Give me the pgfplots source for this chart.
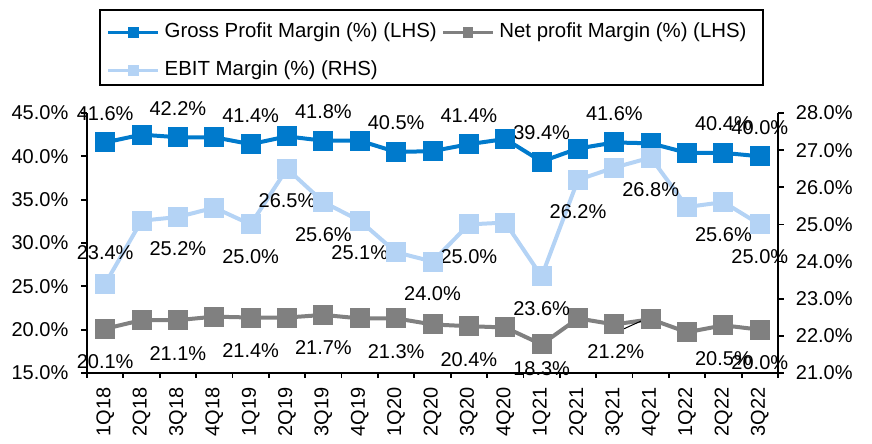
\documentclass[border=0pt]{standalone}
\usepackage{fontspec}
\setmainfont{Liberation Sans}
\usepackage{pgfplots}
\pgfplotsset{compat=1.18}
\usepackage{pgfplotstable}
\definecolor{gpmc}{RGB}{0,122,204}
\definecolor{npmc}{RGB}{128,128,128}
\definecolor{ebitc}{RGB}{180,211,245}
\newcommand\lbl{\fontsize{10}{12}\selectfont}
\newcommand\lgd{\fontsize{10.2}{12}\selectfont}

\pgfplotstableread{
x gpm npm ebit
0 41.6 20.1 23.4
1 42.5 21.1 25.1
2 42.2 21.1 25.2
3 42.2 21.5 25.45
4 41.4 21.4 25.0
5 42.3 21.4 26.5
6 41.8 21.7 25.6
7 41.8 21.3 25.1
8 40.5 21.3 24.25
9 40.6 20.6 24.0
10 41.4 20.4 25.0
11 42.0 20.25 25.05
12 39.4 18.3 23.6
13 40.9 21.3 26.2
14 41.6 20.6 26.53
15 41.5 21.2 26.8
16 40.4 19.7 25.47
17 40.4 20.5 25.6
18 40.0 20.0 25.0
}\data

\tikzset{dl/.style={font=\lbl, inner sep=0pt, anchor=center}}
\pgfplotsset{
  base/.style={
    width=345.5pt, height=130pt, scale only axis,
    xmin=-0.5, xmax=18.5,
    clip=false,
    tick align=outside,
    major tick length=2.8pt,
    /pgf/number format/assume math mode=true,
    ticklabel style={font=\lbl},
    axis line style={line width=0.9pt, black},
    tick style={black, line width=0.9pt},
  },
  lineplot/.style={line width=2pt, mark=square*, mark size=4pt, mark options={solid, rounded corners=1.2pt}},
}

\begin{document}
\begin{tikzpicture}
\begin{axis}[base,
  axis x line*=bottom, axis y line*=left,
  ymin=15, ymax=45, ytick={15,20,...,45},
  yticklabel={\pgfmathprintnumber[fixed,fixed zerofill,precision=1]{\tick}\%},
  yticklabel shift=3pt,
  xtick={0,...,18},
  xticklabels={1Q18,2Q18,3Q18,4Q18,1Q19,2Q19,3Q19,4Q19,1Q20,2Q20,3Q20,4Q20,1Q21,2Q21,3Q21,4Q21,1Q22,2Q22,3Q22},
  major x tick style={draw=none},
  minor xtick={-0.5,0.5,...,18.5}, minor tick length=2.5pt,
  xticklabel style={rotate=90, anchor=east},
  xticklabel shift=1pt,
  legend columns=2,
  legend cell align=left,
  legend style={draw=none, fill=none, at={(0.0289,1.348)}, anchor=north west,
    inner sep=0pt, outer sep=0pt, row sep=9.3pt, column sep=2.5pt, font=\lgd,
    nodes={inner sep=0pt, text height=7.5pt, text depth=2.2pt}},
  legend image code/.code={\draw[mark repeat=2, mark phase=2, #1, line width=1.35pt, mark size=2pt] plot coordinates {(0pt,0pt) (12.5pt,0pt) (25pt,0pt)};},
]
\path (rel axis cs:-0.1259,-0.2654) rectangle (rel axis cs:1.136,1.4346);
\draw[line width=0.8pt] (rel axis cs:0.0188,1.396) rectangle (rel axis cs:0.9783,1.1077);

\addplot[lineplot, gpmc] table[x=x, y=gpm] {\data};
\addlegendentry{Gross Profit Margin (\%) (LHS)}
\addplot[lineplot, npmc] table[x=x, y=npm] {\data};
\addlegendentry{Net profit Margin (\%) (LHS)}
\addlegendimage{lineplot, ebitc}
\addlegendentry{EBIT Margin (\%) (RHS)}

% gross labels
\foreach \xx/\yy in {0/41.6,2/42.2,4/41.4,6/41.8,8/40.5,10/41.4,12/39.4,14/41.6,17/40.4,18/40.0}{
  \edef\tmp{\noexpand\node[dl, yshift=14.5pt] at (axis cs:\xx,\yy) {\yy\noexpand\%};}\tmp
}
% net labels
\foreach \xx/\yy in {0/20.1,2/21.1,4/21.4,6/21.7,8/21.3,10/20.4,17/20.5,18/20.0}{
  \edef\tmp{\noexpand\node[dl, yshift=-16.5pt] at (axis cs:\xx,\yy) {\yy\noexpand\%};}\tmp
}
\node[dl, yshift=-12pt] at (axis cs:12,18.3) {18.3\%};
\node[dl, yshift=-16pt] at (axis cs:14.04,21.2) {21.2\%};
\draw[black, line width=0.5pt] (axis cs:14.07,19.73) -- (axis cs:14.92,21.35);
\end{axis}

\begin{axis}[base,
  axis x line=none, axis y line*=right,
  ymin=21, ymax=28, ytick={21,...,28},
  yticklabel={\pgfmathprintnumber[fixed,fixed zerofill,precision=1]{\tick}\%},
  yticklabel shift=2.6pt,
]
\addplot[lineplot, ebitc] table[x=x, y=ebit] {\data};
\foreach \xx/\yy in {2/25.2,4/25.0,5/26.5,6/25.6,7/25.1,9/24.0,10/25.0,12/23.6,13/26.2,15/26.8,17/25.6,18/25.0}{
  \edef\tmp{\noexpand\node[dl, yshift=-16pt] at (axis cs:\xx,\yy) {\yy\noexpand\%};}\tmp
}
\node[dl, yshift=15.5pt] at (axis cs:0,23.4) {23.4\%};
\end{axis}
\end{tikzpicture}
\end{document}
